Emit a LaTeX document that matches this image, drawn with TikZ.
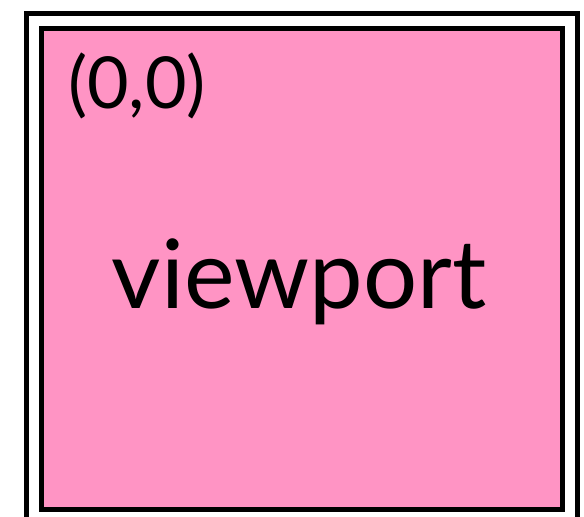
\documentclass[tikz,border=0pt]{standalone}
\usepackage{fontspec}
\setmainfont{Lato}
\usetikzlibrary{positioning}
\definecolor{vppink}{RGB}{255,148,196}

\begin{document}
\begin{tikzpicture}[x=1bp,y=-1bp, every node/.style={inner sep=0pt, outer sep=0pt},
  frame/.style={draw=black, line width=5bp, rectangle}]
\useasboundingbox (0,0) rectangle (584,517);
\clip (0,0) rectangle (584,517);
\node[frame, minimum width=551bp, minimum height=520bp, anchor=north west] (screen) at (26.5,13.5) {};
\node[frame, fill=vppink, minimum width=521.5bp, minimum height=481bp, anchor=north west] (viewport) at (41,28.5) {};
\node[anchor=west, font=\fontsize{72}{72}\selectfont] (origin) at (68,86) {(0,0)};
\node[font=\fontsize{96}{96}\selectfont] (label) at (299,282) {viewport};
\end{tikzpicture}
\end{document}
